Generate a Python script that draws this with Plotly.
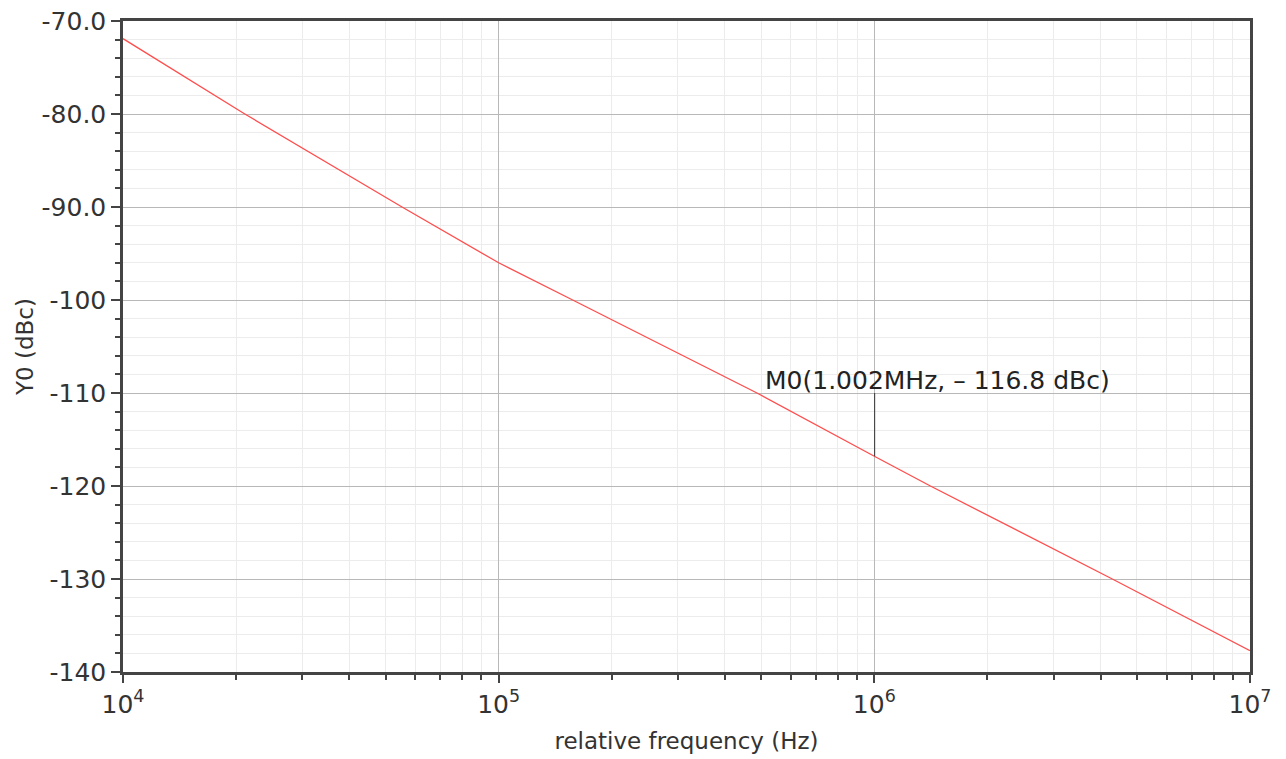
import numpy as np
import plotly.graph_objects as go

freq_hz = [1e4, 2.11e4, 5.53e4, 1e5, 1.574e5, 4.87e5, 1e6, 1.41e6, 4.3e6, 1e7]
noise_dbc = [-71.9, -80.0, -90.0, -96.0, -100.0, -110.0, -116.8, -120.0, -130.0, -137.7]

marker_f = 1.002e6
marker_y = -116.8
marker_label = "M0(1.002MHz, \u2013 116.8 dBc)"

y_ticks = [-70, -80, -90, -100, -110, -120, -130, -140]
y_ticktext = ["-70.0", "-80.0", "-90.0", "-100", "-110", "-120", "-130", "-140"]
x_ticks = [1e4, 1e5, 1e6, 1e7]
x_ticktext = ["10<sup>4</sup>", "10<sup>5</sup>", "10<sup>6</sup>", "10<sup>7</sup>"]

FONT = "DejaVu Sans"

fig = go.Figure()
fig.add_trace(go.Scatter(x=freq_hz, y=noise_dbc, mode="lines",
                         line=dict(color="#ff4d4d", width=1.3), showlegend=False))
fig.add_trace(go.Scatter(x=[marker_f, marker_f], y=[-110, marker_y], mode="lines",
                         line=dict(color="#333333", width=1), showlegend=False))

fig.add_annotation(x=np.log10(marker_f), y=-110, xref="x", yref="y",
                   text=marker_label, showarrow=False, xanchor="left", yanchor="bottom",
                   xshift=-112, yshift=-4, font=dict(family=FONT, size=25, color="#222222"))

fig.update_xaxes(type="log", range=[4, 7], tickvals=x_ticks, ticktext=x_ticktext,
                 showline=True, linecolor="#444444", linewidth=2.5, mirror=True,
                 ticks="outside", ticklen=8, tickwidth=2, tickcolor="#444444",
                 showgrid=True, gridcolor="#b8b8b8", gridwidth=1,
                 minor=dict(ticks="outside", ticklen=5, tickwidth=2, tickcolor="#444444",
                            showgrid=True, gridcolor="#ececec", gridwidth=1, dtick="D1"),
                 tickfont=dict(family=FONT, size=25, color="#333333"),
                 title=dict(text="relative frequency (Hz)", font=dict(family=FONT, size=23, color="#333333"),
                            standoff=16),
                 automargin=False,
                 zeroline=False)
fig.update_yaxes(range=[-140, -70], tickvals=y_ticks, ticktext=y_ticktext,
                 showline=True, linecolor="#444444", linewidth=2.5, mirror=True,
                 ticks="outside", ticklen=9, tickwidth=2, tickcolor="#444444",
                 showgrid=True, gridcolor="#b8b8b8", gridwidth=1,
                 minor=dict(ticks="outside", ticklen=5, tickwidth=2, tickcolor="#444444",
                            showgrid=True, gridcolor="#ececec", gridwidth=1, dtick=2),
                 tickfont=dict(family=FONT, size=25, color="#333333"),
                 title=dict(text="Y0 (dBc)", font=dict(family=FONT, size=23, color="#333333"),
                            standoff=2),
                 automargin=False,
                 zeroline=False)

fig.update_layout(width=1286, height=759, margin=dict(l=123, r=36, t=21, b=87),
                  plot_bgcolor="white", paper_bgcolor="white")

fig.write_html("out.html")
